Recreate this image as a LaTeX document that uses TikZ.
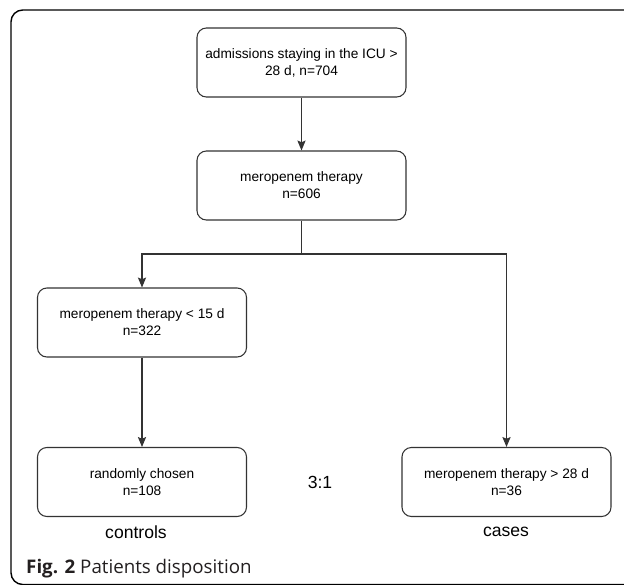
\documentclass[tikz,border=0pt]{standalone}
\usepackage{fontspec}
\setmainfont{Liberation Sans}
\newfontfamily\captionfont{Open Sans}
\usetikzlibrary{arrows.meta, positioning, calc}
\definecolor{boxgray}{RGB}{51, 51, 51}
\definecolor{captiongray}{RGB}{35, 31, 32}

\begin{document}
\begin{tikzpicture}[x=0.03cm, y=-0.03cm,
  flowbox/.style={draw=boxgray, line width=0.9pt, rounded corners=8pt, minimum width=6.27cm, minimum height=2.07cm, align=center, inner sep=0pt, font=\fontsize{11.7}{14.5}\selectfont},
  flowline/.style={draw=boxgray, line width=0.9pt},
  flowarrow/.style={flowline, -{Stealth[length=8.5pt, width=7pt, inset=1.5pt]}},
  grouplabel/.style={font=\fontsize{15}{17}\selectfont}]
  \useasboundingbox (0,0) rectangle (624,584);

  % outer frame
  \begin{scope}
    \clip (0,0) rectangle (624,584);
    \draw[line width=1.2pt, rounded corners=10pt] (11,10) rectangle (660,584.5);
  \end{scope}

  % patient flow
  \node[flowbox] (admit) at (301.5,62.5) {admissions staying in the ICU >\\28 d, n=704};
  \node[flowbox] (mero) at (301.5,185.5) {meropenem therapy\\n=606};
  \node[flowbox] (short) at (142,322.5) {meropenem therapy < 15 d\\n=322};
  \node[flowbox] (random) at (142,482) {randomly chosen\\n=108};
  \node[flowbox] (long) at (506.5,482) {meropenem therapy > 28 d\\n=36};
  \coordinate (split) at (301.5,254);

  \draw[flowarrow] (admit) -- (mero);
  \draw[flowline] (mero) -- (split);
  \draw[flowarrow] (split) -| (short.north);
  \draw[flowarrow] (split) -| (long.north);
  \draw[flowarrow] (short) -- (random);

  % groups
  \node[grouplabel] (ratio) at (320,482) {3:1};
  \node[grouplabel] (controls) at (136,532) {controls};
  \node[grouplabel] (cases) at (506,532) {cases};

  % caption
  \node[anchor=base west, inner sep=0pt, text=captiongray, font=\captionfont\fontsize{16}{19}\selectfont] (caption) at (26,573) {\textbf{Fig. 2} Patients disposition};
\end{tikzpicture}
\end{document}
